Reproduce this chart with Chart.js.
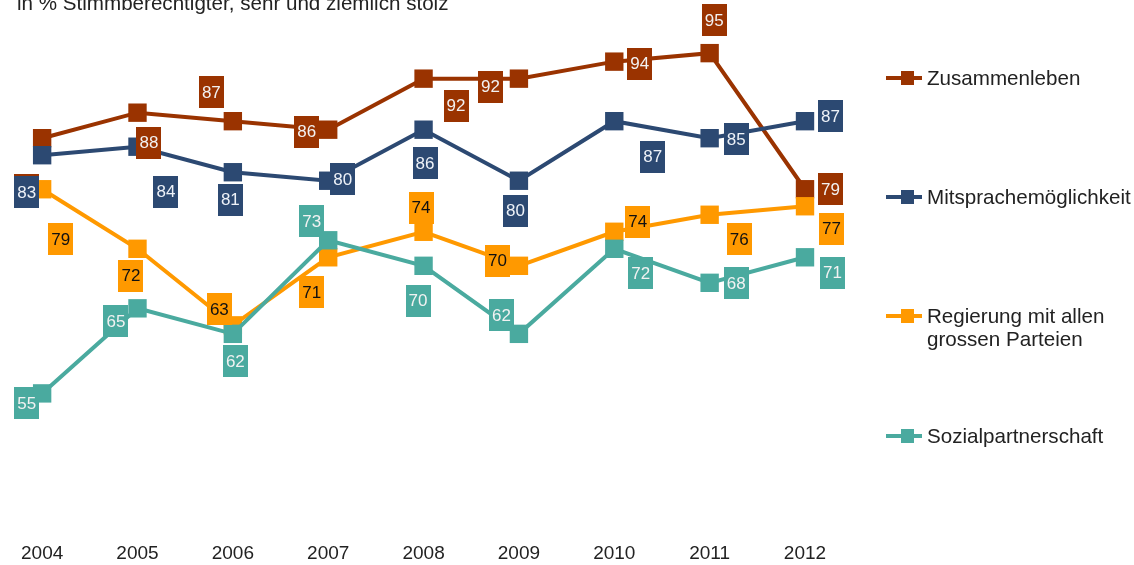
<!DOCTYPE html>
<html lang="de">
<head>
<meta charset="utf-8">
<title>Stolz: Zusammenleben, Mitsprache, Regierung, Sozialpartnerschaft</title>
<script src="https://cdn.jsdelivr.net/npm/chart.js@4.4.1/dist/chart.umd.min.js"></script>
<style>
  html, body { margin: 0; padding: 0; background: #fff; }
  #wrap { position: relative; width: 1134px; height: 565px; }
</style>
</head>
<body>
<div id="wrap"><canvas id="chart" width="1134" height="565"></canvas></div>
<script>
// Survey values, in % of voters (very and fairly proud)
const years = ["2004", "2005", "2006", "2007", "2008", "2009", "2010", "2011", "2012"];
const zusammenleben = [85, 88, 87, 86, 92, 92, 94, 95, 79];
const mitsprache = [83, 84, 81, 80, 86, 80, 87, 85, 87];
const regierung = [79, 72, 63, 71, 74, 70, 74, 76, 77];
const sozialpartner = [55, 65, 62, 73, 70, 62, 72, 68, 71];

const seriesNames = [
  "Zusammenleben",
  "Mitsprachemöglichkeit",
  ["Regierung mit allen", "grossen Parteien"],
  "Sozialpartnerschaft",
];
const titleText = "in % Stimmberechtigter, sehr und ziemlich stolz";

// Colours
const colors = ["#9a3300", "#2c4972", "#ff9900", "#4aaa9f"];
const labelTextColors = ["#f2f2f2", "#eef2f8", "#111111", "#f2f2f2"];
const FONT = '"Liberation Sans", Arial, sans-serif';

// Where each value box sits, in px from its point (dx, dy)
const labelShift = [
  [[-15.5, 52], [11.5, 30], [-21.5, -29], [-21.5, 2], [32.5, 27], [-28.5, 8], [25.5, 2], [4.5, -33], [25.5, 0]],
  [[-15.5, 37], [28.5, 45], [-2.5, 27.5], [14.5, -1.5], [1.5, 33.5], [-3.5, 30], [38.5, 35.5], [26.5, 1], [25.5, -5]],
  [[18.5, 50], [-6.5, 27], [-13.5, -16], [-16.5, 35], [-2.5, -24], [-21.5, -5], [23.5, -10], [29.5, 24.5], [26.5, 22.5]],
  [[-15.5, 10], [-21.5, 13], [2.5, 27], [-16.5, -19], [-5.5, 35], [-17.5, -19], [26.5, 24.5], [26.5, 0.5], [27.5, 15.5]],
];

const allSeries = [zusammenleben, mitsprache, regierung, sozialpartner];

// Value boxes next to the points
const valueBoxes = {
  id: "valueBoxes",
  afterDatasetsDraw(chart) {
    const ctx = chart.ctx;
    ctx.save();
    ctx.font = "17px " + FONT;
    ctx.textAlign = "center";
    ctx.textBaseline = "middle";
    chart.data.datasets.forEach((ds, i) => {
      const meta = chart.getDatasetMeta(i);
      meta.data.forEach((pt, j) => {
        const [dx, dy] = labelShift[i][j];
        const cx = pt.x + dx;
        const cy = pt.y + dy;
        ctx.fillStyle = colors[i];
        ctx.fillRect(Math.round(cx - 12.5), Math.round(cy - 16), 25, 32);
        ctx.fillStyle = labelTextColors[i];
        ctx.fillText(String(ds.data[j]), cx, cy + 1);
      });
    });
    ctx.restore();
  },
};

// Title line and the legend on the right
const sideText = {
  id: "sideText",
  afterDraw(chart) {
    const ctx = chart.ctx;
    ctx.save();
    ctx.fillStyle = "#222";
    ctx.font = "20.6px " + FONT;
    ctx.textAlign = "left";
    ctx.textBaseline = "alphabetic";
    ctx.fillText(titleText, 17, 9.5);

    const legendY = [78, 197, 316, 436];
    ctx.textBaseline = "middle";
    seriesNames.forEach((name, i) => {
      const y = legendY[i];
      ctx.strokeStyle = colors[i];
      ctx.lineWidth = 4;
      ctx.beginPath();
      ctx.moveTo(886, y);
      ctx.lineTo(922, y);
      ctx.stroke();
      ctx.fillStyle = colors[i];
      ctx.fillRect(901, y - 7, 13, 14);
      ctx.fillStyle = "#222";
      const lines = Array.isArray(name) ? name : [name];
      lines.forEach((line, k) => ctx.fillText(line, 927, y + 1 + k * 23.5));
    });
    ctx.restore();
  },
};

new Chart(document.getElementById("chart"), {
  type: "line",
  data: {
    labels: years,
    datasets: allSeries.map((values, i) => ({
      label: Array.isArray(seriesNames[i]) ? seriesNames[i].join(" ") : seriesNames[i],
      data: values,
      borderColor: colors[i],
      backgroundColor: colors[i],
      borderWidth: 4,
      tension: 0,
      pointStyle: "rect",
      pointRadius: 13,
      pointHoverRadius: 13,
      pointBorderWidth: 0,
      pointBackgroundColor: colors[i],
      order: 3 - i,
      clip: false,
    })),
  },
  options: {
    responsive: false,
    animation: false,
    events: [],
    layout: { autoPadding: false, padding: { top: 10.6, left: 40, right: 329, bottom: 0 } },
    plugins: {
      legend: { display: false },
      title: { display: false },
      tooltip: { enabled: false },
    },
    scales: {
      x: {
        offset: false,
        grid: { display: false, drawTicks: false },
        border: { display: false },
        ticks: { color: "#222", font: { family: FONT, size: 19 }, padding: 21, maxRotation: 0 },
        afterFit(scale) { scale.height = 44; },
      },
      y: { display: false, min: 40, max: 100 },
    },
  },
  plugins: [valueBoxes, sideText],
});
</script>
</body>
</html>
